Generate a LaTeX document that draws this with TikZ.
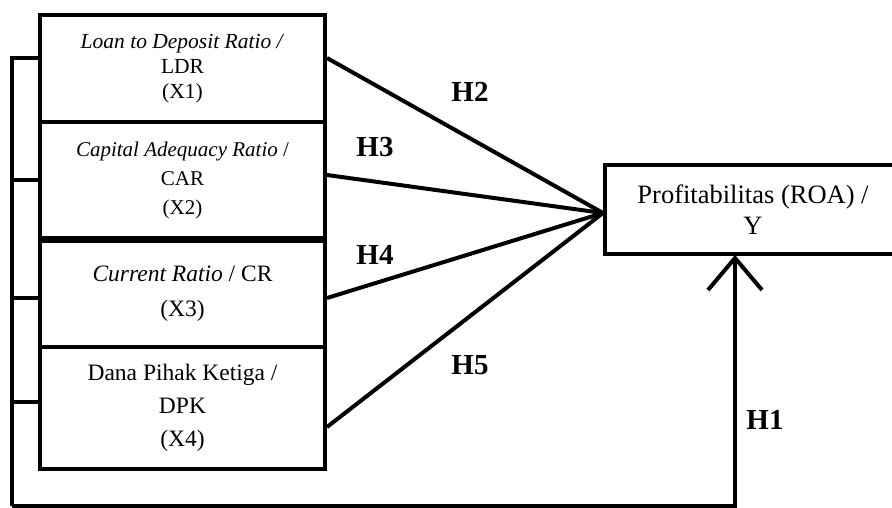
\documentclass[tikz,border=0pt]{standalone}
\usepackage{fontspec}
\setmainfont{Liberation Serif}
\begin{document}
\begin{tikzpicture}[x=1pt,y=-1pt,line width=4pt,
  varbox/.style={draw,rectangle,inner sep=0pt,align=center,minimum width=285pt},
  hlab/.style={font=\fontsize{29}{30}\selectfont\bfseries,inner sep=0pt},
  link/.style={line width=4pt,line cap=butt}]
\useasboundingbox (0,0) rectangle (892,507);
\clip (0,0) rectangle (892,507);
% variable boxes
\node[varbox,minimum height=107pt,font=\fontsize{21.5}{25}\selectfont] (x1) at (182.5,68.5)
  {\textit{Loan to Deposit Ratio /}\\LDR\\(X1)};
\node[varbox,minimum height=116pt,font=\fontsize{21}{29}\selectfont] (x2) at (182.5,180)
  {\textit{Capital Adequacy Ratio} /\\CAR\\(X2)};
\node[varbox,minimum height=106pt,font=\fontsize{23.5}{35}\selectfont] (x3) at (182.5,294)
  {\textit{Current Ratio} / CR\\(X3)};
\node[varbox,minimum height=122pt,font=\fontsize{23.5}{33}\selectfont] (x4) at (182.5,408)
  {Dana Pihak Ketiga /\\DPK\\(X4)};
% dependent box (cropped at right edge)
\node[draw,rectangle,inner sep=0pt,align=center,minimum width=296pt,minimum height=89pt,
  font=\fontsize{26.5}{31}\selectfont] (y) at (753,209.5)
  {Profitabilitas (ROA) /\\Y};
% fan connectors
\coordinate (apex) at ([yshift=-3.5pt]y.west);
\draw[link] ([yshift=10.5pt]x1.east) -- (apex);
\draw[link] ([yshift=5pt]x2.east) -- (apex);
\draw[link] ([yshift=-4pt]x3.east) -- (apex);
\draw[link] ([yshift=-19pt]x4.east) -- (apex);
% bracket
\coordinate (bt) at (12,58);
\coordinate (bb) at (12,506);
\draw[link] ([yshift=10.5pt]x1.west) -| (bb);
\draw[link] (x2.west) -- ++(-28,0);
\draw[link] ([yshift=-4pt]x3.west) -- ++(-28,0);
\draw[link] ([yshift=6pt]x4.west) -- ++(-28,0);
% H1 path
\coordinate (tip) at ([xshift=-18pt,yshift=-2pt]y.south);
\coordinate (corner) at (735,506);
\draw[link] (bb) -- (corner) -- (tip);
\draw[link,line join=miter] ([xshift=-27pt,yshift=-32pt]tip) -- (tip) -- ([xshift=27pt,yshift=-32pt]tip);
% labels
\node[hlab] (h2) at (470,92) {H2};
\node[hlab] (h3) at (375,147) {H3};
\node[hlab] (h4) at (375,255) {H4};
\node[hlab] (h5) at (470,365) {H5};
\node[hlab] (h1) at (765,420) {H1};
\end{tikzpicture}
\end{document}
